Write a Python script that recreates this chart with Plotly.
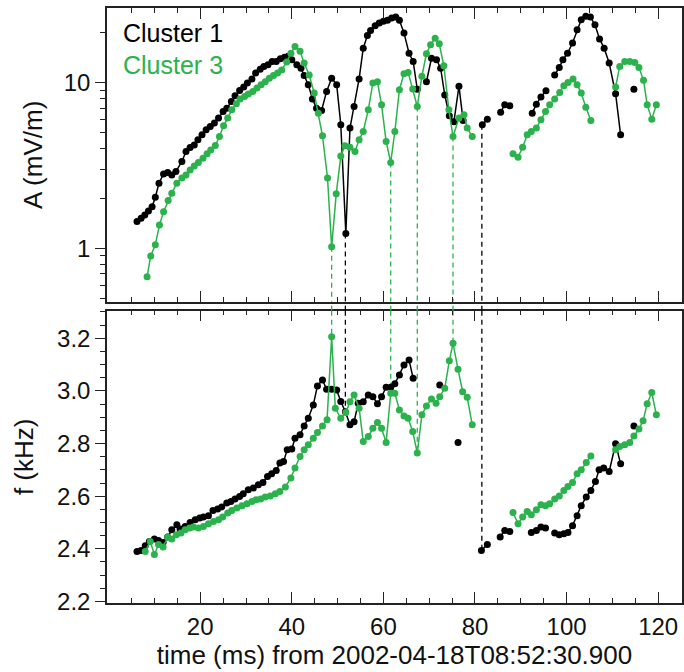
import plotly.graph_objects as go

# ---------------- data ----------------
# Cluster 1, amplitude A (mV/m); None marks a gap in the line
c1_top_t = [6.2, 7.1, 7.9, 8.7, 9.5, 10.2, 11.0, 12.0, 12.9, 13.8, 14.7, 16.0, 16.9, 17.8, 18.7, 19.5,
            20.4, 21.3, 22.2, 23.1, 24.0, 25.0, 25.8, 26.8, 27.6, 28.6, 29.5, 30.3, 31.3, 32.1, 33.1,
            33.9, 34.8, 35.7, 36.6, 37.5, 38.4, 39.2, 40.0, 41.1, 42.0, 42.7, 43.6, 44.5, 45.4, 46.5,
            47.6, 48.7, 49.8, 50.7, 51.8, 52.7, 53.6, 54.7, 55.6, 56.5, 57.2, 58.2, 59.1, 60.0, 60.9,
            61.8, 62.7, 63.5, 64.5, 65.6, 66.5, 67.4, None,
            69.4, 70.5, 71.6, 72.5, 73.4, 74.4, 75.4, 76.5, 77.4, None,
            81.6, 82.7, None,
            85.6, 86.5, 87.6, None,
            92.5, 93.4, 94.4, 95.5, None,
            97.4, 98.4, 99.2, 100.2, 101.3, 102.3, 103.2, 104.2, 105.2, 106.2, 107.2, 108.2, 109.3,
            110.7, 111.8, None,
            114.7]
c1_top_A = [1.45, 1.52, 1.59, 1.68, 1.78, 2.03, 2.47, 2.81, 2.86, 2.77, 2.90, 3.34, 3.83, 4.05, 4.20, 4.51,
            4.83, 5.18, 5.42, 5.69, 6.10, 6.68, 7.00, 7.67, 8.31, 8.95, 9.38, 9.91, 10.5, 11.4, 12.0,
            12.5, 12.8, 13.4, 13.4, 13.9, 14.2, 14.4, 13.7, 12.8, 12.2, 11.0, 9.7, 7.94, 7.0, 6.77,
            8.83, 10.6, 9.7, 5.56, 1.23, 5.31, 7.16, 10.5, 16.1, 19.2, 20.6, 22.0, 22.8, 23.4, 23.7,
            24.5, 24.8, 23.7, 19.9, 15.0, 13.4, 9.1, None,
            10.1, 14.0, 13.7, 12.2, 8.4, 6.3, 5.8, 9.5, 5.9, None,
            5.56, 6.0, None,
            6.62, 7.33, 7.23, None,
            6.53, 7.40, 8.16, 8.91, None,
            11.1, 12.3, 13.7, 15.0, 17.3, 20.8, 23.9, 25.1, 24.8, 22.3, 18.3, 16.1, 13.1,
            8.55, 4.83, None,
            9.1]

# Cluster 1, frequency f (kHz)
c1_bot_t = [6.2, 7.1, 8.0, 8.9, 10.0, 10.9, 11.9, 12.9, 13.8, 14.9, 15.6, 16.7, 17.8, 18.9, 19.9, 20.7,
            21.8, 22.8, 23.8, 24.7, 25.8, 26.7, 27.6, 28.6, 29.4, 30.5, 31.6, 32.7, 33.7, 34.7, 35.6,
            36.6, 37.4, 38.2, 39.0, 40.0, 40.7, 41.8, 42.7, 43.6, 44.7, 45.6, 46.7, 47.6, 48.7, 49.8,
            50.7, 51.7, 52.7, 53.6, 54.5, 55.6, 56.7, 57.7, 58.7, 59.6, 60.6, 61.6, 62.5, 63.5, 64.5,
            65.6, 66.5, None,
            72.3, None,
            76.3, None,
            81.4, 82.7, None,
            85.5, 86.5, 87.6, None,
            92.3, 93.4, 94.4, 95.4, None,
            97.4, 98.4, 99.4, 100.3, 101.3, 102.3, 103.2, 104.3, 105.3, 106.3, 107.1, 108.1, 109.3,
            110.7, 111.8, None,
            114.7]
c1_bot_f = [2.390, 2.394, 2.412, 2.428, 2.437, 2.432, 2.424, 2.445, 2.472, 2.491, 2.475, 2.485, 2.500,
            2.510, 2.517, 2.521, 2.526, 2.546, 2.551, 2.559, 2.574, 2.580, 2.589, 2.599, 2.609, 2.624,
            2.631, 2.643, 2.652, 2.675, 2.685, 2.698, 2.726, 2.732, 2.776, 2.779, 2.820, 2.833, 2.867,
            2.896, 2.947, 3.019, 3.042, 3.006, 3.006, 3.004, 2.960, 2.921, 2.871, 2.883, 2.953, 2.959,
            2.985, 2.978, 2.951, 2.978, 3.014, 3.014, 3.027, 3.061, 3.099, 3.118, 3.048, None,
            3.023, None,
            2.804, None,
            2.394, 2.416, None,
            2.445, 2.470, 2.466, None,
            2.462, 2.470, 2.483, 2.479, None,
            2.460, 2.453, 2.457, 2.462, 2.488, 2.526, 2.564, 2.597, 2.622, 2.656, 2.700, 2.707, 2.694,
            2.799, 2.723, None,
            2.867]

# Cluster 3, amplitude A (mV/m)
c3_top_t = [8.4, 9.2, 10.2, 11.1, 12.0, 13.0, 13.8, 14.9, 16.0, 16.9, 17.8, 18.7, 19.6, 20.6, 21.5, 22.3,
            23.3, 24.2, 25.1, 26.0, 26.9, 27.9, 28.7, 29.7, 30.5, 31.5, 32.4, 33.3, 34.2, 35.1, 36.0,
            36.9, 37.8, 38.9, 39.8, 40.7, 41.8, 42.7, 43.8, 44.9, 45.8, 46.7, 47.8, 48.7, 49.7, 50.7,
            51.6, 52.7, 53.8, 54.7, 55.6, 56.7, 57.7, 58.7, 59.6, 60.6, 61.6, 62.5, 63.5, 64.5, 65.4,
            66.4, 67.4, 68.4, 69.4, 70.3, 71.3, 72.2, 73.2, 74.3, 75.2, 76.5, 77.6, 78.3, 79.4, None,
            88.3, 89.4, 90.4, 91.4, 92.3, 93.4, 94.4, 95.4, 96.3, 97.4, 98.5, 99.4, 100.3, 101.4,
            102.3, 103.2, 104.2, 105.3, None,
            110.7, 111.6, 112.7, 113.8, 114.9, 115.8, 116.8, 117.6, 118.6, 119.6]
c3_top_A = [0.674, 0.90, 1.05, 1.38, 1.66, 1.94, 2.15, 2.47, 2.65, 2.77, 2.97, 3.14, 3.29, 3.49, 3.71, 3.92,
            4.17, 4.72, 5.48, 6.10, 6.84, 7.44, 7.94, 8.23, 8.51, 8.83, 9.25, 9.69, 10.1, 10.6, 11.0,
            11.4, 11.9, 13.3, 15.0, 16.5, 15.4, 13.1, 11.1, 8.63, 6.53, 4.77, 2.65, 1.02, 2.13, 3.60,
            4.15, 4.07, 3.83, 4.51, 5.06, 6.84, 9.91, 10.1, 7.33, 4.40, 3.29, 5.06, 9.04, 11.3, 11.5,
            9.12, 7.16, 10.9, 14.9, 16.9, 18.5, 17.1, 12.6, 6.84, 4.72, 6.10, 6.38, 5.31, 4.72, None,
            3.71, 3.54, 4.07, 4.83, 5.06, 5.31, 5.96, 6.68, 7.33, 7.94, 8.71, 9.55, 10.0, 10.5,
            9.69, 8.63, 7.10, 5.90, None,
            9.38, 12.5, 13.4, 13.4, 13.2, 12.3, 10.3, 7.33, 6.01, 7.33]

# Cluster 3, frequency f (kHz)
c3_bot_t = [8.0, 9.1, 10.0, 10.9, 11.9, 12.9, 13.8, 14.8, 15.8, 16.7, 17.7, 18.5, 19.6, 20.7, 21.8, 22.9,
            24.0, 24.9, 26.0, 26.9, 28.0, 29.1, 30.2, 31.3, 32.2, 33.2, 34.2, 35.3, 36.4, 37.4, 38.6,
            39.8, 40.7, 41.8, 42.7, 43.6, 44.7, 45.6, 46.7, 47.7, 48.7, 49.5, 50.7, 51.8, 52.7, 53.6,
            54.7, 55.6, 56.7, 57.7, 58.7, 59.6, 60.6, 61.6, 62.5, 63.5, 64.5, 65.4, 66.4, 67.4, 68.4,
            69.4, 70.5, 71.5, 72.3, 73.4, 74.4, 75.2, 76.3, 77.3, 78.3, 79.4, None,
            88.3, 89.4, 90.4, 91.4, 92.3, 93.4, 94.4, 95.4, 96.3, 97.4, 98.4, 99.4, 100.3, 101.3,
            102.3, 103.2, 104.3, 105.3, None,
            110.7, 111.6, 112.7, 113.8, 114.7, 115.8, 116.7, 117.6, 118.6, 119.6]
c3_bot_f = [2.390, 2.428, 2.378, 2.416, 2.407, 2.445, 2.437, 2.453, 2.460, 2.472, 2.479, 2.483, 2.479,
            2.485, 2.495, 2.504, 2.510, 2.521, 2.536, 2.546, 2.555, 2.564, 2.571, 2.580, 2.586, 2.589,
            2.597, 2.601, 2.609, 2.618, 2.635, 2.669, 2.707, 2.751, 2.776, 2.795, 2.820, 2.842, 2.867,
            2.890, 3.206, 2.934, 2.896, 2.918, 2.959, 2.985, 2.934, 2.808, 2.827, 2.858, 2.880, 2.858,
            2.804, 2.991, 2.991, 2.928, 2.905, 2.896, 2.846, 2.764, 2.909, 2.943, 2.969, 2.953, 2.978,
            3.010, 3.115, 3.181, 3.082, 2.997, 2.976, 2.871, None,
            2.538, 2.495, 2.521, 2.542, 2.529, 2.548, 2.567, 2.564, 2.571, 2.589, 2.601, 2.622, 2.637,
            2.652, 2.685, 2.700, 2.728, 2.753, None,
            2.776, 2.789, 2.795, 2.804, 2.829, 2.855, 2.887, 2.951, 2.994, 2.909]

# times of the dotted connector lines
c3_mark_t = [48.7, 61.6, 67.4, 75.2]
c1_mark_t = [51.7, 81.5]

series_names = ["Cluster 1", "Cluster 3"]
x_tickvals = [20, 40, 60, 80, 100, 120]
x_minorvals = [5, 10, 15, 25, 30, 35, 45, 50, 55, 65, 70, 75, 85, 90, 95, 105, 110, 115]
A_tickvals = [1, 10]
A_minorvals = [0.5, 0.6, 0.7, 0.8, 0.9, 2, 3, 4, 5, 6, 7, 8, 9, 20]
f_tickvals = [2.2, 2.4, 2.6, 2.8, 3.0, 3.2]

# ---------------- styling ----------------
BLACK = "#000000"
GREEN = "#2bb24c"
FONT = "Liberation Sans, Arial, Helvetica, sans-serif"
X_RANGE = [-0.35, 125.2]
A_RANGE = [-0.322, 1.449]   # log10
F_RANGE = [2.194, 3.305]
TOP_DOM = [0.5064, 1.0]
BOT_DOM = [0.0, 0.4913]


def nearest(ts, vs, t):
    best = None
    for a, b in zip(ts, vs):
        if a is None or b is None:
            continue
        if best is None or abs(a - t) < abs(best[0] - t):
            best = (a, b)
    return best[1]


fig = go.Figure()

# dotted connector lines (drawn first so the dots sit above)
for marks, color, tt, tv, bt, bv in [
    (c3_mark_t, GREEN, c3_top_t, c3_top_A, c3_bot_t, c3_bot_f),
    (c1_mark_t, BLACK, c1_top_t, c1_top_A, c1_bot_t, c1_bot_f),
]:
    for t in marks:
        fig.add_trace(go.Scatter(x=[t, t], y=[nearest(tt, tv, t), 10 ** A_RANGE[0]],
                                 mode="lines", line=dict(color=color, width=1.3, dash="5px,4px"),
                                 xaxis="x", yaxis="y", showlegend=False, hoverinfo="skip"))
        fig.add_trace(go.Scatter(x=[t, t], y=[F_RANGE[1], nearest(bt, bv, t)],
                                 mode="lines", line=dict(color=color, width=1.3, dash="5px,4px"),
                                 xaxis="x2", yaxis="y2", showlegend=False, hoverinfo="skip"))
        fig.add_shape(type="line", xref="x2", yref="paper", x0=t, x1=t,
                      y0=BOT_DOM[1], y1=TOP_DOM[0],
                      line=dict(color=color, width=1.3, dash="5px,4px"))

marker_kw = dict(size=7)
for name, color, tt, tv, bt, bv in [
    (series_names[0], BLACK, c1_top_t, c1_top_A, c1_bot_t, c1_bot_f),
    (series_names[1], GREEN, c3_top_t, c3_top_A, c3_bot_t, c3_bot_f),
]:
    fig.add_trace(go.Scatter(x=tt, y=tv, mode="lines+markers", name=name,
                             line=dict(color=color, width=1.5), marker=dict(color=color, **marker_kw),
                             xaxis="x", yaxis="y", showlegend=False, connectgaps=False))
    fig.add_trace(go.Scatter(x=bt, y=bv, mode="lines+markers", name=name,
                             line=dict(color=color, width=1.5), marker=dict(color=color, **marker_kw),
                             xaxis="x2", yaxis="y2", showlegend=False, connectgaps=False))

axis_common = dict(showline=True, linecolor="#222222", linewidth=1.5, showgrid=False,
                   zeroline=False, tickcolor="#222222", tickwidth=1.3, automargin=False,
                   tickfont=dict(family=FONT, size=24, color="#111111"))

xminor = dict(ticks="inside", tickvals=x_minorvals, ticklen=5,
              tickcolor="#222222", tickwidth=1.2)

fig.update_layout(
    width=684, height=672,
    margin=dict(l=107, r=2, t=8, b=69),
    plot_bgcolor="white", paper_bgcolor="white",
    font=dict(family=FONT, color="#111111"),
    xaxis=dict(**axis_common, domain=[0, 1], range=X_RANGE, anchor="y", matches="x2",
               tickvals=x_tickvals, ticks="inside", ticklen=11, mirror="ticks",
               showticklabels=False, minor=xminor),
    xaxis2=dict(**axis_common, domain=[0, 1], range=X_RANGE, anchor="y2",
                tickvals=x_tickvals, ticks="inside", ticklen=11, mirror="ticks",
                showticklabels=True, minor=xminor, ticklabelstandoff=1,
                title=dict(text="time (ms) from 2002-04-18T08:52:30.900",
                           font=dict(family=FONT, size=26), standoff=4)),
    yaxis=dict(**axis_common, domain=TOP_DOM, type="log", range=A_RANGE, anchor="x",
               tickvals=A_tickvals, ticktext=["1", "10"], ticks="outside", ticklen=10,
               mirror=True,
               minor=dict(ticks="outside", tickvals=A_minorvals, ticklen=5,
                          tickcolor="#222222", tickwidth=1.2),
               title=dict(text="A (mV/m)", font=dict(family=FONT, size=26), standoff=14)),
    yaxis2=dict(**axis_common, domain=BOT_DOM, range=F_RANGE, anchor="x2",
                tickvals=f_tickvals, tickformat=".1f", ticks="outside", ticklen=10,
                mirror=True,
                minor=dict(ticks="outside", dtick=0.05, tick0=2.2, ticklen=5,
                           tickcolor="#222222", tickwidth=1.2),
                title=dict(text="f (kHz)", font=dict(family=FONT, size=26), standoff=16)),
    yaxis3=dict(overlaying="y", side="right", anchor="x", type="log", range=A_RANGE,
                showline=False, showgrid=False, zeroline=False, showticklabels=False,
                automargin=False,
                tickvals=A_tickvals, ticks="inside", ticklen=10, tickcolor="#222222", tickwidth=1.3,
                minor=dict(ticks="inside", tickvals=A_minorvals, ticklen=5,
                           tickcolor="#222222", tickwidth=1.2)),
    yaxis4=dict(overlaying="y2", side="right", anchor="x2", range=F_RANGE,
                showline=False, showgrid=False, zeroline=False, showticklabels=False,
                automargin=False,
                tickvals=f_tickvals, ticks="inside", ticklen=10, tickcolor="#222222", tickwidth=1.3,
                minor=dict(ticks="inside", dtick=0.05, tick0=2.2, ticklen=5,
                           tickcolor="#222222", tickwidth=1.2)),
    annotations=[
        dict(text=series_names[0], xref="paper", yref="paper", x=0.024, y=0.958,
             xanchor="left", yanchor="middle", showarrow=False,
             font=dict(family=FONT, size=25, color=BLACK)),
        dict(text=series_names[1], xref="paper", yref="paper", x=0.024, y=0.904,
             xanchor="left", yanchor="middle", showarrow=False,
             font=dict(family=FONT, size=25, color=GREEN)),
    ],
)

fig.write_html("out.html", config={"displayModeBar": False},
               post_script="document.body.style.margin='0';document.body.style.overflow='hidden';")
